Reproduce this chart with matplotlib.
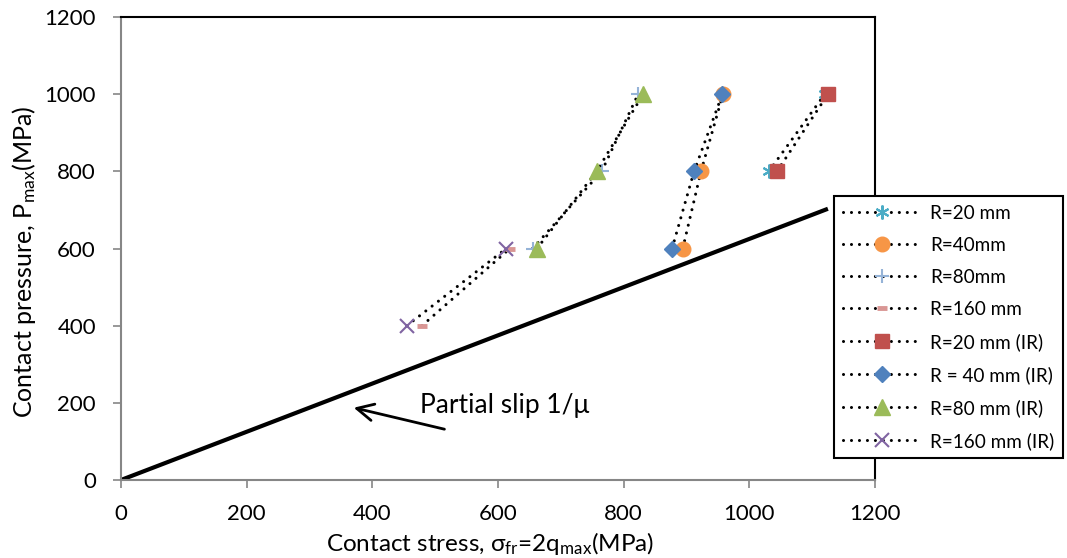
import matplotlib
matplotlib.use('Agg')
import matplotlib.pyplot as plt

plt.rcParams['font.family'] = ['Lato', 'DejaVu Sans']
plt.rcParams['mathtext.default'] = 'regular'

# P_max levels (MPa)
p_all = [600, 800, 1000]
p_hi = [800, 1000]
p_lo = [400, 600]

# contact stress sigma_fr (MPa)
r20 = [1031, 1120]
r40 = [894, 923, 958]
r80 = [655, 765, 823]
r160 = [479, 619]
r20_ir = [1044, 1125]
r40_ir = [877, 912, 957]
r80_ir = [662, 757, 831]
r160_ir = [455, 613]

# partial slip line 1/mu
slip_x = [0, 1125]
slip_y = [0, 703]

ticks = [0, 200, 400, 600, 800, 1000, 1200]

fig = plt.figure(figsize=(10.67, 5.58), dpi=100)
ax = fig.add_axes([0.1134, 0.1398, 0.7067, 0.8297])

dot = dict(color='black', lw=2.2, ls=(0, (0.01, 2.6)), dash_capstyle='round')

ax.plot(slip_x, slip_y, color='black', lw=3, solid_capstyle='butt', zorder=2)

series = [
    (r20, p_hi, 'R=20 mm', dict(marker=(6, 2, 0), ms=10, mew=1.5, mfc='#4BACC6', mec='#4BACC6')),
    (r40, p_all, 'R=40mm', dict(marker='o', ms=10.5, mfc='#F79646', mec='#F79646')),
    (r80, p_all, 'R=80mm', dict(marker='+', ms=10, mew=1.5, mfc='#95B3D7', mec='#95B3D7')),
    (r160, p_lo, 'R=160 mm', dict(marker='_', ms=7, mew=3.5, mfc='#D99694', mec='#D99694')),
    (r20_ir, p_hi, 'R=20 mm (IR)', dict(marker='s', ms=10, mfc='#C0504D', mec='#C0504D')),
    (r40_ir, p_all, 'R = 40 mm (IR)', dict(marker='D', ms=8.5, mfc='#4F81BD', mec='#4F81BD')),
    (r80_ir, p_all, 'R=80 mm (IR)', dict(marker='^', ms=11, mfc='#9BBB59', mec='#9BBB59')),
    (r160_ir, p_lo, 'R=160 mm (IR)', dict(marker='x', ms=10, mew=1.5, mfc='#8064A2', mec='#8064A2')),
]
for i, (xs, ys, lab, mk) in enumerate(series):
    ax.plot(xs, ys, label=lab, zorder=3 + i, **dot, **mk)

ax.set_xlim(0, 1200)
ax.set_ylim(0, 1200)
ax.set_xticks(ticks)
ax.set_yticks(ticks)
ax.tick_params(labelsize=16, length=6, width=1.2, color='#868686', direction='out')
ax.tick_params(axis='x', pad=11)
ax.tick_params(axis='y', pad=12)
for s in ['left', 'bottom']:
    ax.spines[s].set_color('#868686')
    ax.spines[s].set_linewidth(1.5)
for s in ['top', 'right']:
    ax.spines[s].set_color('black')
    ax.spines[s].set_linewidth(1.5)

ax.set_xlabel('Contact stress, σ$_{fr}$=2q$_{max}$(MPa)', fontsize=17.5)
ax.set_ylabel('Contact pressure, P$_{max}$(MPa)', fontsize=18)
ax.xaxis.set_label_coords(0.49, -0.108)
ax.yaxis.set_label_coords(-0.11, 0.471)

ax.annotate('', xy=(366, 189), xytext=(519, 130),
            arrowprops=dict(arrowstyle='->', color='black', lw=2, mutation_scale=30))
ax.text(476, 194, 'Partial slip 1/μ', fontsize=19, va='center', ha='left')

leg = ax.legend(loc='upper left', bbox_to_anchor=(0.9456, 0.6134), borderaxespad=0,
                fontsize=13.6, handlelength=4.2, handletextpad=0.45, labelspacing=0.8,
                borderpad=0.45, fancybox=False, framealpha=1, edgecolor='black')
leg.get_frame().set_linewidth(1.5)
leg.set_zorder(20)

fig.savefig('out.png', dpi=100)
